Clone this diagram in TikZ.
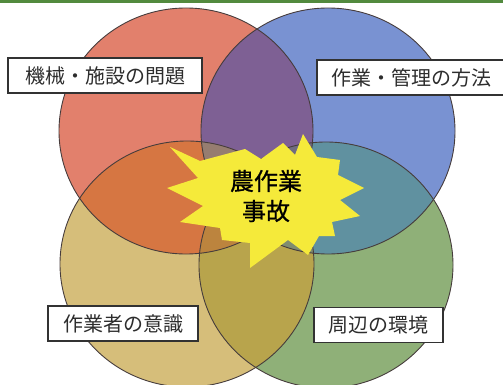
\documentclass[tikz,border=0pt]{standalone}
\usepackage{fontspec}
\newfontfamily\jpfont{Noto Sans CJK JP}
\newfontfamily\jpboldfont[FakeBold=0.8]{Noto Sans CJK JP}
\usetikzlibrary{positioning}
\definecolor{akaC}{RGB}{226,128,108}
\definecolor{aoC}{RGB}{121,146,210}
\definecolor{kiC}{RGB}{214,190,122}
\definecolor{midoriC}{RGB}{143,176,120}
\definecolor{akaaoC}{RGB}{126,96,148}
\definecolor{akakiC}{RGB}{214,118,66}
\definecolor{aomidoriC}{RGB}{96,145,160}
\definecolor{kimidoriC}{RGB}{184,164,76}
\definecolor{akamidoriC}{RGB}{170,120,80}
\definecolor{aokiC}{RGB}{140,135,130}
\definecolor{sanRBY}{RGB}{150,125,112}
\definecolor{sanRBG}{RGB}{112,108,128}
\definecolor{sanRYG}{RGB}{188,132,62}
\definecolor{sanBYG}{RGB}{128,140,112}
\definecolor{yonC}{RGB}{125,112,100}
\definecolor{ringline}{RGB}{70,60,60}
\definecolor{boxline}{RGB}{50,50,50}
\definecolor{boxtext}{RGB}{45,45,45}
\definecolor{starC}{RGB}{245,234,58}
\definecolor{barC}{RGB}{82,138,62}
\tikzset{
  every node/.style={outer sep=0mm},
  ring/.style={draw=ringline,line width=0.9pt},
  zoneR/.style={insert path={(186,131) ellipse [x radius=127pt,y radius=123pt]}},
  zoneB/.style={insert path={(328,131) ellipse [x radius=127pt,y radius=123pt]}},
  zoneY/.style={insert path={(187,264) ellipse [x radius=127pt,y radius=123pt]}},
  zoneG/.style={insert path={(326,265) ellipse [x radius=127pt,y radius=123pt]}}
}
\tikzset{namebox/.style={
    draw=boxline,
    fill=white,
    line width=1.1pt,
    minimum width=#1,
    minimum height=35pt,
    inner sep=0pt,
    text=boxtext,
    font=\jpfont\fontsize{20}{24}\selectfont
  },
  namebox/.default=150pt}

\begin{document}
\begin{tikzpicture}[x=1pt,y=-1pt]
  \useasboundingbox (0,0) rectangle (503,385);
  \clip (0,0) rectangle (503,385);

  % four circles
  \fill[akaC,zoneR];
  \fill[aoC,zoneB];
  \fill[kiC,zoneY];
  \fill[midoriC,zoneG];

  % overlaps of two
  \begin{scope}\clip[zoneR]; \fill[akaaoC,zoneB]; \end{scope}
  \begin{scope}\clip[zoneR]; \fill[akakiC,zoneY]; \end{scope}
  \begin{scope}\clip[zoneR]; \fill[akamidoriC,zoneG]; \end{scope}
  \begin{scope}\clip[zoneB]; \fill[aokiC,zoneY]; \end{scope}
  \begin{scope}\clip[zoneB]; \fill[aomidoriC,zoneG]; \end{scope}
  \begin{scope}\clip[zoneY]; \fill[kimidoriC,zoneG]; \end{scope}

  % overlaps of three and four
  \begin{scope}\clip[zoneR]; \clip[zoneB]; \fill[sanRBY,zoneY]; \end{scope}
  \begin{scope}\clip[zoneR]; \clip[zoneB]; \fill[sanRBG,zoneG]; \end{scope}
  \begin{scope}\clip[zoneR]; \clip[zoneY]; \fill[sanRYG,zoneG]; \end{scope}
  \begin{scope}\clip[zoneB]; \clip[zoneY]; \fill[sanBYG,zoneG]; \end{scope}
  \begin{scope}\clip[zoneR]; \clip[zoneB]; \clip[zoneY]; \fill[yonC,zoneG]; \end{scope}

  \draw[ring,zoneR];
  \draw[ring,zoneB];
  \draw[ring,zoneY];
  \draw[ring,zoneG];

  \fill[barC] (0,0) rectangle (503,3.5);

  % starburst
  \fill[starC] (170,147) -- (200,161) -- (245,149) -- (261,159) -- (283,143)
  -- (295,155) -- (303,134) -- (317,157) -- (340,160) -- (338,175)
  -- (364,188) -- (340,200) -- (360,216) -- (332,222) -- (335,236)
  -- (319,236) -- (308,255) -- (288,240) -- (250,268) -- (250,243)
  -- (222,240) -- (220,228) -- (180,222) -- (203,206) -- (167,188)
  -- (198,178) -- cycle;
  \node (jiko) at (266,196) [align=center,text=black,
    font=\jpboldfont\fontsize{24}{30}\selectfont] {農作業\\事故};

  \node (kikai) at (105,75.5) [namebox=194pt] {機械・施設の問題};
  \node (kanri) at (411,77.5) [namebox=188pt] {作業・管理の方法};
  \node (ishiki) at (123,323.5) [namebox=150pt] {作業者の意識};
  \node (kankyo) at (378.5,325) [namebox=129pt] {周辺の環境};
\end{tikzpicture}
\end{document}
